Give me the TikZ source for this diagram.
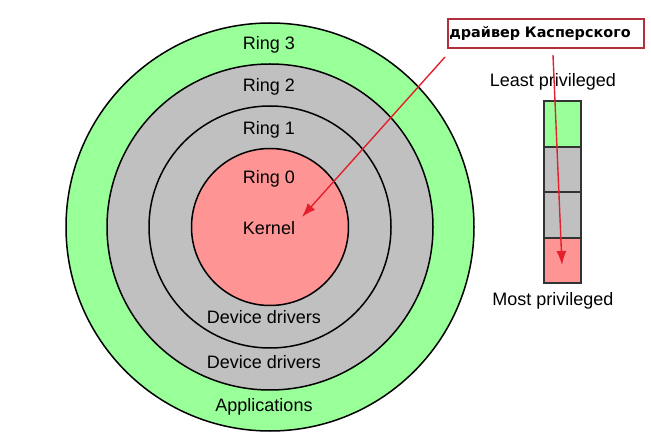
\documentclass[tikz,border=0pt]{standalone}
\usepackage{fontspec}
\setmainfont{Liberation Sans}
\newfontfamily\boxfont{DejaVu Sans}
\usetikzlibrary{arrows.meta}
\definecolor{ringgreen}{HTML}{99FF99}
\definecolor{ringgray}{HTML}{C0C0C0}
\definecolor{ringred}{HTML}{FF9494}
\definecolor{arrowred}{HTML}{E4202E}
\definecolor{boxred}{HTML}{B0303C}
\tikzset{
    ring/.style={draw=black, line width=1.5pt},
    cell/.style={draw=black!80, line width=1.3pt},
    ringtext/.style={font=\fontsize{18}{18}\selectfont, inner sep=0pt, anchor=base},
    redarrow/.style={arrowred, line width=1.4pt, -{Latex[length=14pt,width=10pt]}},
}
\begin{document}
\begin{tikzpicture}[x=1pt,y=-1pt]
    \useasboundingbox (0,0) rectangle (651,446);
    \coordinate (O) at (270,227);
    \filldraw [ring, fill=ringgreen] (O) circle (204pt);
    \filldraw [ring, fill=ringgray]  (O) circle (163pt);
    \filldraw [ring, fill=ringgray]  (O) circle (121pt);
    \filldraw [ring, fill=ringred]   (O) circle (78.5pt);
    \node [ringtext] (r3)  at (269,49.5)  {Ring 3};
    \node [ringtext] (r2)  at (269,91.5)  {Ring 2};
    \node [ringtext] (r1)  at (269,134.5) {Ring 1};
    \node [ringtext] (r0)  at (269,183.5) {Ring 0};
    \node [ringtext] (kernel) at (269,234.5) {Kernel};
    \node [ringtext] (dd1) at (264,323.5) {Device drivers};
    \node [ringtext] (dd2) at (264,368.5) {Device drivers};
    \node [ringtext] (apps) at (264,411.5) {Applications};
    % privilege bar
    \filldraw [cell, fill=ringgreen] (544,101) rectangle (581,147);
    \filldraw [cell, fill=ringgray]  (544,147) rectangle (581,192);
    \filldraw [cell, fill=ringgray]  (544,192) rectangle (581,238);
    \filldraw [cell, fill=ringred]   (544,238) rectangle (581,283);
    \node [ringtext] (least) at (553,87)  {Least privileged};
    \node [ringtext] (most)  at (553,306) {Most privileged};
    % label and arrows
    \node [draw=boxred, line width=1.5pt, anchor=west, minimum height=29pt,
           text width=193pt, align=left, inner xsep=1.5pt,
           font=\boxfont\bfseries\fontsize{14.4}{15}\selectfont] (kasp) at (447,33.5) {драйвер Касперского};
    \coordinate (s1) at (445,57);
    \coordinate (t1) at (302,217);
    \coordinate (s2) at (553,55);
    \coordinate (t2) at (562,265);
    \draw [redarrow] (s1) -- (t1);
    \draw [redarrow] (s2) -- (t2);
\end{tikzpicture}
\end{document}
